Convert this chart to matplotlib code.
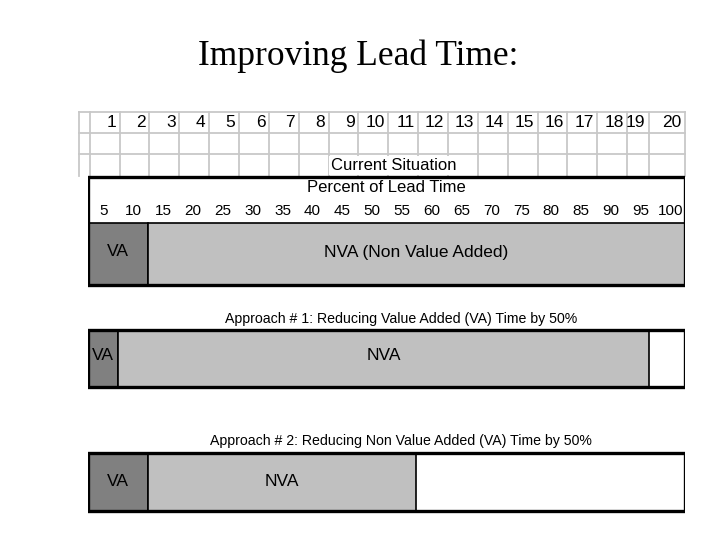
import matplotlib.pyplot as plt
from matplotlib.patches import Rectangle

# top grid: period numbers and column edges (percent of lead time units)
periods = [str(i) for i in range(1, 21)]
col_edges = [-1.5, 0.3, 5.3, 10.3, 15.3, 20.3, 25.3, 30.3, 35.3, 40.3, 45.3,
             50.3, 55.3, 60.3, 65.3, 70.3, 75.3, 80.3, 85.3, 90.3, 94.0, 100.0]

pct_ticks = list(range(5, 105, 5))

# bars: (value added, non value added) in percent of lead time
current = [10, 90]
approach1 = [5, 89]
approach2 = [10, 45]

va_color = '#808080'
nva_color = '#c0c0c0'
grid_color = '#c8c8c8'

plt.rcParams['font.family'] = ['Liberation Sans', 'DejaVu Sans']

fig = plt.figure(figsize=(7.2, 5.4), dpi=100)
ax = fig.add_axes([88 / 720, 0, 597 / 720, 1])
ax.set_xlim(0, 100)
ax.set_ylim(540, 0)
ax.axis('off')

fig.text(0.497, 0.895, 'Improving Lead Time:', ha='center', va='center',
         fontsize=25.5, family='Liberation Serif')

# grid at the top
grid_rows = [112, 133, 154, 176]
for y in grid_rows[:-1]:
    ax.plot([col_edges[0], col_edges[-1]], [y, y], color=grid_color, lw=1.3,
            clip_on=False, zorder=1)
for x in col_edges:
    ax.plot([x, x], [grid_rows[0], grid_rows[-1]], color=grid_color, lw=1.3,
            clip_on=False, zorder=1)
for i, lab in enumerate(periods):
    ax.text(col_edges[i + 2] - 0.6, 122.5, lab, ha='right', va='center',
            fontsize=12.5, clip_on=False)
ax.text(51.2, 165, 'Current Situation', ha='center', va='center', fontsize=12,
        bbox=dict(facecolor='white', edgecolor='none', pad=1.5), zorder=2)

# current situation
ax.add_patch(Rectangle((0, 177), 100, 45, facecolor='white', edgecolor='none', zorder=2))
ax.text(50, 188, 'Percent of Lead Time', ha='center', va='center', fontsize=12, zorder=3)
for p in pct_ticks:
    ax.text(p - 2.4, 211, str(p), ha='center', va='center', fontsize=11, zorder=3)
ax.barh(253.5, current[0], height=62, left=0, color=va_color, edgecolor='black', lw=1.2, zorder=3)
ax.barh(253.5, current[1], height=62, left=current[0], color=nva_color, edgecolor='black', lw=1.2, zorder=3)
ax.text(current[0] / 2, 252, 'VA', ha='center', va='center', fontsize=12.5, zorder=4)
ax.text(current[0] + current[1] / 2, 252, 'NVA (Non Value Added)', ha='center',
        va='center', fontsize=12.5, zorder=4)
ax.add_patch(Rectangle((0, 177), 100, 107.5, facecolor='none', edgecolor='black', lw=2.4, zorder=5))

# approach 1
ax.text(52.5, 319, 'Approach # 1: Reducing Value Added (VA) Time by 50%', ha='center',
        va='center', fontsize=10.2)
ax.barh(358, approach1[0], height=57, left=0, color=va_color, edgecolor='black', lw=1.2, zorder=3)
ax.barh(358, approach1[1], height=57, left=approach1[0], color=nva_color, edgecolor='black', lw=1.2, zorder=3)
ax.text(approach1[0] / 2, 356, 'VA', ha='center', va='center', fontsize=12.5, zorder=4)
ax.text(approach1[0] + approach1[1] / 2, 356, 'NVA', ha='center', va='center', fontsize=12.5, zorder=4)
ax.add_patch(Rectangle((0, 330), 100, 57, facecolor='none', edgecolor='black', lw=2.4, zorder=5))

# approach 2
ax.text(52.4, 441, 'Approach # 2: Reducing Non Value Added (VA) Time by 50%', ha='center',
        va='center', fontsize=10.2)
ax.barh(482, approach2[0], height=58, left=0, color=va_color, edgecolor='black', lw=1.2, zorder=3)
ax.barh(482, approach2[1], height=58, left=approach2[0], color=nva_color, edgecolor='black', lw=1.2, zorder=3)
ax.text(approach2[0] / 2, 481, 'VA', ha='center', va='center', fontsize=12.5, zorder=4)
ax.text(approach2[0] + approach2[1] / 2, 481, 'NVA', ha='center', va='center', fontsize=12.5, zorder=4)
ax.add_patch(Rectangle((0, 453), 100, 58, facecolor='none', edgecolor='black', lw=2.4, zorder=5))

fig.savefig('out.png', dpi=100)
